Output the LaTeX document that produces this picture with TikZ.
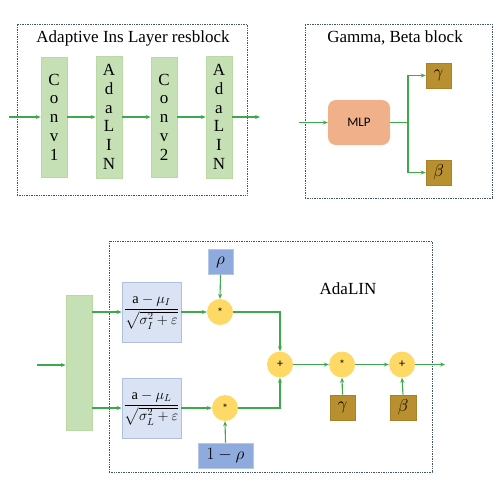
\documentclass[tikz,border=0pt]{standalone}
\usepackage{amsmath}
\usepackage{fontspec}
\setmainfont{Liberation Serif}
\newfontfamily\calibri{Carlito}
\usetikzlibrary{arrows.meta,calc}
\definecolor{barg}{HTML}{C5E0B4}
\definecolor{barb}{HTML}{B9D8A4}
\definecolor{arrg}{HTML}{3DAA4A}
\definecolor{dotc}{HTML}{44546A}
\definecolor{mlpc}{HTML}{F0B08A}
\definecolor{gbc}{HTML}{B8902F}
\definecolor{gbb}{HTML}{A8822A}
\definecolor{normc}{HTML}{DAE3F3}
\definecolor{normb}{HTML}{AFC0DD}
\definecolor{rhoc}{HTML}{8FAADC}
\definecolor{rhob}{HTML}{B4C7E7}
\definecolor{circc}{HTML}{FFD966}
\tikzset{
  dotbox/.style={draw=dotc, dash pattern=on 0.8pt off 0.9pt, line width=0.8pt, inner sep=0pt},
  greenbar/.style={fill=barg, draw=barb, line width=0.6pt, minimum width=26pt, inner sep=0pt, align=center, font=\fontsize{17}{18.7}\selectfont},
  titletext/.style={font=\fontsize{17}{20}\selectfont, inner sep=0pt},
  flow/.style={draw=arrg, line width=1.1pt, -{Stealth[length=5pt,width=4pt]}},
  gbbox/.style={fill=gbc, draw=gbb, line width=0.6pt, minimum width=25pt, minimum height=25pt, inner sep=0pt, font=\fontsize{17}{17}\selectfont},
  normbox/.style={fill=normc, draw=normb, line width=0.7pt, minimum width=59pt, minimum height=60pt, inner sep=0pt, font=\fontsize{14.4}{16}\selectfont},
  rhobox/.style={fill=rhoc, draw=rhob, line width=0.7pt, minimum height=25pt, inner sep=0pt, font=\fontsize{16.5}{17}\selectfont},
  opcirc/.style={circle, fill=circc, minimum size=26pt, inner sep=0pt, font=\calibri\fontsize{12}{12}\selectfont},
}
\begin{document}
\begin{tikzpicture}[x=1pt,y=-1pt]
\useasboundingbox (0,0) rectangle (502,482);
% ---------- top-left block ----------
\node[dotbox, minimum width=230pt, minimum height=171pt] (blk1) at (132,109.5) {};
\node[titletext] (title1) at (133,38) {Adaptive Ins Layer resblock};
\node[greenbar, minimum height=120pt] (conv1) at (54,117) {C\\o\\n\\v\\1};
\node[greenbar, minimum height=122pt] (ada1) at (109,117) {A\\d\\a\\L\\I\\N};
\node[greenbar, minimum height=120pt] (conv2) at (164,117) {C\\o\\n\\v\\2};
\node[greenbar, minimum height=122pt] (ada2) at (219,117) {A\\d\\a\\L\\I\\N};
\coordinate (in1) at (9,117);
\coordinate (out1) at (260,117);
\draw[flow] (in1) -- (conv1.west);
\draw[flow] (conv1.east) -- (ada1.west);
\draw[flow] (ada1.east) -- (conv2.west);
\draw[flow] (conv2.east) -- (ada2.west);
\draw[flow] (ada2.east) -- (out1);
% ---------- top-right block ----------
\node[dotbox, minimum width=187pt, minimum height=174pt] (blk2) at (398.5,111) {};
\node[titletext] (title2) at (395,38) {Gamma, Beta block};
\node[fill=mlpc, rounded corners=8pt, minimum width=62pt, minimum height=45pt, inner sep=0pt, font=\calibri\fontsize{13}{13}\selectfont] (mlp) at (359,122.5) {MLP};
\node[gbbox] (gamma1) at (438.5,75.5) {$\gamma$};
\node[gbbox] (beta1) at (438.5,172.5) {$\beta$};
\coordinate (in2) at (299,122.5);
\coordinate (br) at (408,122.5);
\draw[flow] (in2) -- (mlp.west);
\draw[flow] (mlp.east) -- (br) |- (gamma1.west);
\draw[flow] (mlp.east) -- (br) |- (beta1.west);
% ---------- bottom block ----------
\node[dotbox, minimum width=323pt, minimum height=231pt] (blk3) at (270.5,356.5) {};
\node[titletext] (title3) at (348,289) {AdaLIN};
\node[greenbar, minimum height=135pt] (bar) at (79,362.5) {};
\coordinate (in3) at (37,365);
\draw[flow] (in3) -- (in3 -| bar.west);
\node[normbox] (normI) at (151.5,312) {$\dfrac{\mathrm{a}-\mu_I}{\sqrt{\sigma_I^2+\varepsilon}}$};
\node[normbox] (normL) at (151.5,408) {$\dfrac{\mathrm{a}-\mu_L}{\sqrt{\sigma_L^2+\varepsilon}}$};
\draw[flow] (bar.east |- normI.west) -- (normI.west);
\draw[flow] (bar.east |- normL.west) -- (normL.west);
\node[opcirc] (mulI) at (220,312) {*};
\node[opcirc] (mulL) at (225,408) {*};
\node[rhobox, minimum width=25pt] (rho) at (220.5,262) {$\rho$};
\node[rhobox, minimum width=55pt] (onerho) at (225.5,455.5) {$1-\rho$};
\node[opcirc] (plus1) at (280,364.5) {+};
\node[opcirc] (mul2) at (342,364.5) {*};
\node[opcirc] (plus2) at (402,364.5) {+};
\node[gbbox] (gamma2) at (342.5,407.5) {$\gamma$};
\node[gbbox, minimum width=26pt] (beta2) at (403,407.5) {$\beta$};
\coordinate (out3) at (445,364.5);
\draw[flow] (normI.east) -- (mulI.west);
\draw[flow] (rho.south) -- (mulI.north);
\draw[flow] (mulI.east) -| (plus1.north);
\draw[flow] (normL.east) -- (mulL.west);
\draw[flow] (onerho.north) -- (mulL.south);
\draw[flow] (mulL.east) -| (plus1.south);
\draw[flow] (plus1.east) -- (mul2.west);
\draw[flow] (gamma2.north) -- (mul2.south);
\draw[flow] (mul2.east) -- (plus2.west);
\draw[flow] (beta2.north) -- (plus2.south);
\draw[flow] (plus2.east) -- (out3);
\end{tikzpicture}
\end{document}
